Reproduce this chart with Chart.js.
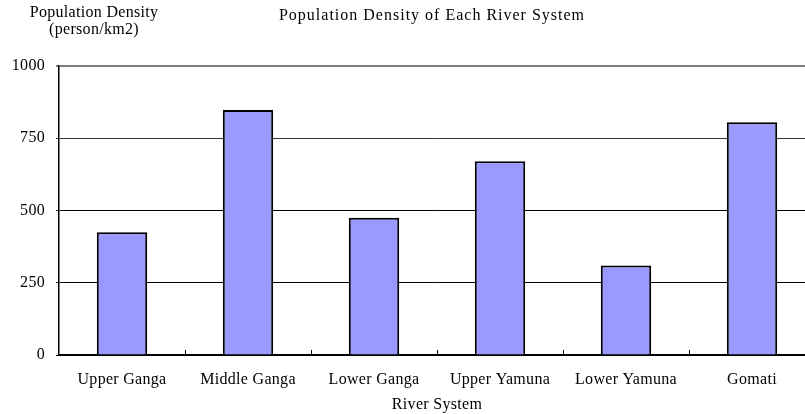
<!DOCTYPE html>
<html>
<head>
<meta charset="utf-8">
<script src="https://cdn.jsdelivr.net/npm/chart.js@4/dist/chart.umd.min.js"></script>
<style>
  html, body { margin: 0; padding: 0; background: #fff; overflow: hidden; }
  #wrap { width: 805px; height: 414px; overflow: hidden; }
</style>
</head>
<body>
<div id="wrap"><canvas id="c" width="820" height="414"></canvas></div>
<script>
const categories = ['Upper Ganga', 'Middle Ganga', 'Lower Ganga', 'Upper Yamuna', 'Lower Yamuna', 'Gomati'];
const density = [425, 848, 475, 670, 310, 805];
const yTicks = [0, 250, 500, 750, 1000];

const chartTitle = 'Population Density of Each River System';
const yTitle = ['Population Density', '(person/km2)'];
const xTitle = 'River System';

const FONT = '"Liberation Serif", "Times New Roman", serif';

// Slightly loose letter spacing for the axis labels
const spacing = {
  id: 'spacing',
  beforeDraw(chart) { chart.ctx.letterSpacing = '0.3px'; }
};

// Headings, axis titles and the short category separators on the x axis
const decorations = {
  id: 'decorations',
  afterDraw(chart) {
    const ctx = chart.ctx;
    const area = chart.chartArea;
    const x = chart.scales.x;
    ctx.save();
    // separators between categories, pointing up from the axis
    ctx.strokeStyle = '#000';
    ctx.lineWidth = 1;
    for (let i = 0; i < categories.length - 1; i++) {
      const bx = Math.round((x.getPixelForValue(i) + x.getPixelForValue(i + 1)) / 2) + 0.5;
      ctx.beginPath();
      ctx.moveTo(bx, area.bottom);
      ctx.lineTo(bx, area.bottom - 5);
      ctx.stroke();
    }
    ctx.fillStyle = '#000';
    ctx.textAlign = 'center';
    ctx.textBaseline = 'alphabetic';
    ctx.font = '16px ' + FONT;
    ctx.letterSpacing = '1px';
    ctx.fillText(chartTitle, 432, 20);
    ctx.letterSpacing = '0.3px';
    ctx.fillText(yTitle[0], 94, 17);
    ctx.fillText(yTitle[1], 94, 34);
    ctx.fillText(xTitle, (area.left + area.right) / 2, 409);
    ctx.restore();
  }
};

new Chart(document.getElementById('c'), {
  type: 'bar',
  data: {
    labels: categories,
    datasets: [{
      data: density,
      backgroundColor: '#9999FF',
      borderColor: '#000',
      borderWidth: 2,
      barPercentage: 0.4,
      categoryPercentage: 1.0
    }]
  },
  options: {
    responsive: false,
    animation: false,
    devicePixelRatio: 1,
    layout: { padding: { top: 66, right: 5, left: 0, bottom: 0 } },
    plugins: { legend: { display: false }, tooltip: { enabled: false } },
    scales: {
      x: {
        afterFit(s) { s.height = 59; },
        grid: { display: false },
        border: { display: true, color: '#000', width: 1.5 },
        ticks: { color: '#000', font: { family: FONT, size: 16 }, padding: 7, maxRotation: 0 }
      },
      y: {
        min: 0,
        max: 1000,
        afterFit(s) { s.width = 59; },
        afterBuildTicks(s) { s.ticks = yTicks.map(v => ({ value: v })); },
        border: { display: true, color: '#000', width: 1.5 },
        grid: {
          drawTicks: true,
          tickLength: 3,
          color: c => c.tick && c.tick.value === 1000 ? '#808080' : (c.tick && c.tick.value === 750 ? '#333' : '#000'),
          lineWidth: c => c.tick && c.tick.value === 1000 ? 2 : 1
        },
        ticks: {
          color: '#000',
          font: { family: FONT, size: 16 },
          padding: 11,
          callback: v => String(v)
        }
      }
    }
  },
  plugins: [spacing, decorations]
});
</script>
</body>
</html>
